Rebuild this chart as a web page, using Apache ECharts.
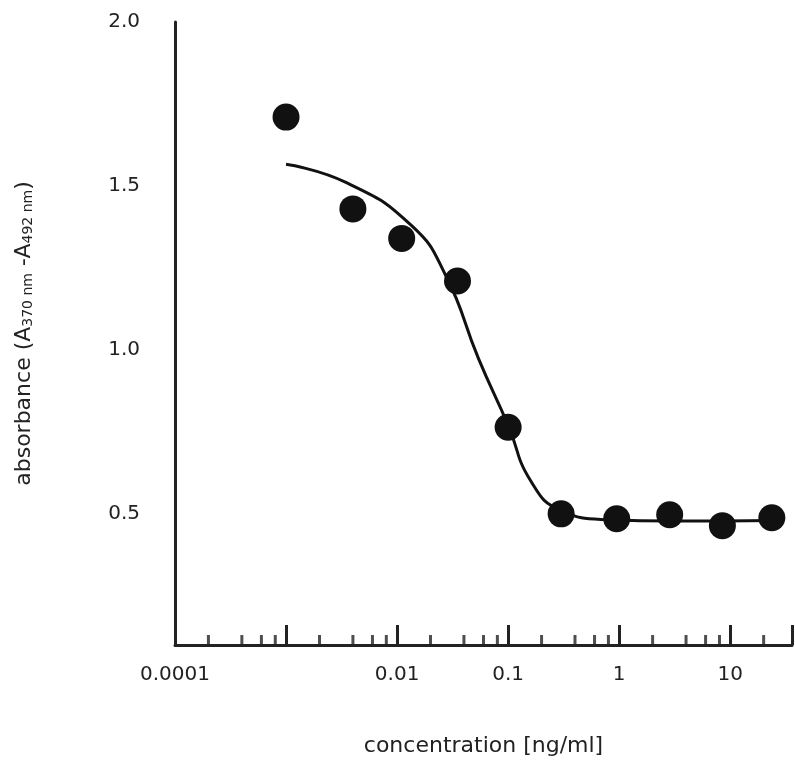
<!DOCTYPE html>
<html>
<head>
<meta charset="utf-8">
<script src="https://cdn.jsdelivr.net/npm/echarts@6/dist/echarts.min.js"></script>
<style>html,body{margin:0;padding:0;background:#fff}#chart{width:795px;height:765px}</style>
</head>
<body>
<div id="chart"></div>
<script>
var pointX = [0.001, 0.004, 0.011, 0.035, 0.1, 0.3, 0.95, 2.85, 8.5, 23.7];
var pointY = [1.71, 1.43, 1.34, 1.21, 0.764, 0.50, 0.485, 0.497, 0.464, 0.488];
var curveX = [0.001, 0.0035, 0.0136, 0.0275, 0.054, 0.1, 0.16, 0.3, 0.8, 3, 25];
var curveY = [1.566, 1.51, 1.378, 1.226, 0.974, 0.77, 0.60, 0.51, 0.482, 0.478, 0.48];
var xLabels = ['0.0001', '0.01', '0.1', '1', '10'];
var yLabels = [0.5, 1.0, 1.5, 2.0];

var minorTicks = [];
[0.0001, 0.001, 0.01, 0.1, 1, 10].forEach(function (d) {
    [2, 4, 6, 8].forEach(function (m) {
        if (d * m < 36) minorTicks.push([d * m, 0.1]);
    });
});

var chart = echarts.init(document.getElementById('chart'));
var font = '"DejaVu Sans", sans-serif';
chart.setOption({
    animation: false,
    grid: { left: 175, right: 0, top: 22, bottom: 120 },
    xAxis: {
        type: 'log', logBase: 10, min: 0.0001, max: 36,
        name: 'concentration [ng/ml]', nameLocation: 'middle', nameGap: 90,
        nameTextStyle: { fontSize: 22, color: '#222', fontFamily: font },
        axisLine: { lineStyle: { color: '#222', width: 3 } },
        axisTick: { inside: true, length: 20, lineStyle: { color: '#222', width: 3 } },
        splitLine: { show: false },
        axisLabel: {
            margin: 20, fontSize: 20, color: '#222', fontFamily: font,
            formatter: function (v) {
                var s = String(Number(v.toPrecision(3)));
                return xLabels.indexOf(s) >= 0 ? s : '';
            }
        }
    },
    yAxis: {
        type: 'value', min: 0.1, max: 2.0, interval: 0.1,
        name: '{n|absorbance (A}{s|370 nm}{n| -A}{s|492 nm}{n|)}',
        nameLocation: 'middle', nameGap: 140,
        nameTextStyle: {
            rich: {
                n: { fontSize: 22, color: '#222', fontFamily: font },
                s: { fontSize: 14, color: '#222', fontFamily: font, verticalAlign: 'bottom', padding: [8, 0, 0, 0] }
            }
        },
        axisLine: { lineStyle: { color: '#222', width: 3 } },
        axisTick: { show: false },
        splitLine: { show: false },
        axisLabel: {
            margin: 35, fontSize: 20, color: '#222', fontFamily: font,
            formatter: function (v) {
                var r = Math.round(v * 10) / 10;
                return yLabels.indexOf(r) >= 0 ? r.toFixed(1) : '';
            }
        }
    },
    series: [{
        type: 'line', smooth: 0.5, symbol: 'none',
        lineStyle: { color: '#111', width: 3 },
        data: curveX.map(function (x, i) { return [x, curveY[i]]; })
    }, {
        type: 'scatter', symbolSize: 27,
        itemStyle: { color: '#111', opacity: 1 },
        data: pointX.map(function (x, i) { return [x, pointY[i]]; })
    }, {
        type: 'scatter', symbol: 'rect', symbolSize: [3, 10], symbolOffset: [0, -5],
        itemStyle: { color: '#222' }, silent: true,
        data: minorTicks
    }]
});
</script>
</body>
</html>
